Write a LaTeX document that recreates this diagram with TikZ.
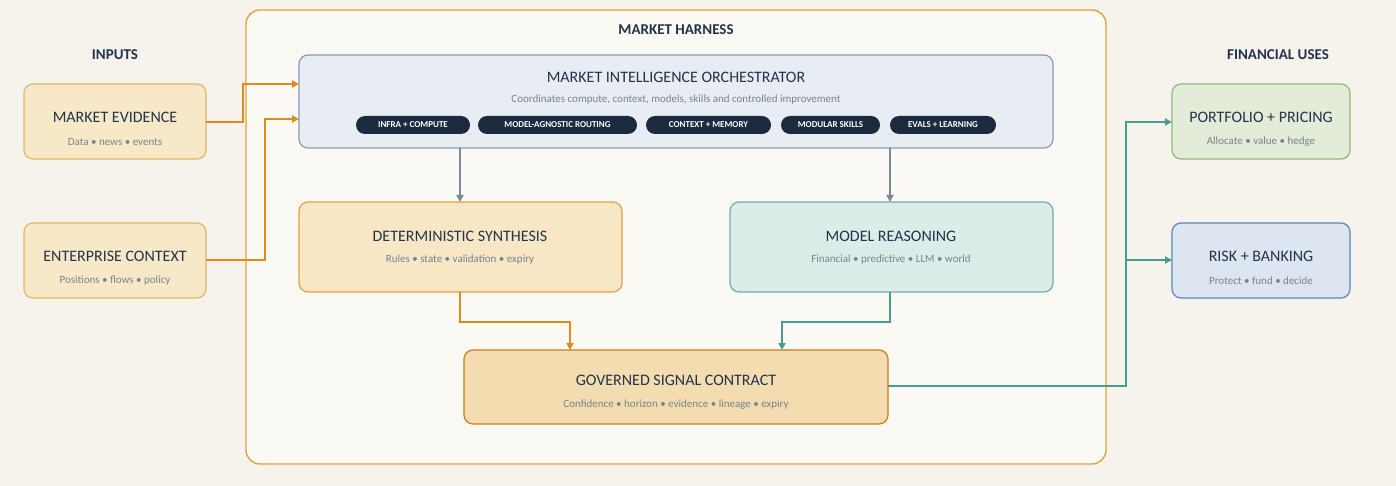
\documentclass[tikz,border=0pt]{standalone}
\usepackage{fontspec}
\setmainfont{Carlito}
\usetikzlibrary{arrows.meta}
\definecolor{bg}{HTML}{F6F3EC}
\definecolor{hfill}{HTML}{FBF9F4}
\definecolor{hborder}{HTML}{D9A441}
\definecolor{ink}{HTML}{23344A}
\definecolor{sub}{HTML}{7A8290}
\definecolor{orng}{HTML}{E08A1E}
\definecolor{teal}{HTML}{4A9A94}
\definecolor{gry}{HTML}{7A8A9A}
\definecolor{pill}{HTML}{1B2A3E}
\definecolor{infill}{HTML}{F7E9C8}
\tikzset{
  px/.style={x=1pt,y=-1pt},
  box/.style={rounded corners=9pt,line width=1.2pt},
  ttl/.style={font=\fontsize{16}{18}\selectfont,text=ink},
  sbt/.style={font=\fontsize{11}{12}\selectfont,text=sub},
  hdr/.style={font=\fontsize{15}{16}\selectfont\bfseries,text=ink},
  pl/.style={fill=pill,rounded corners=9pt,text=white,font=\fontsize{9}{10}\selectfont\bfseries,inner sep=0pt},
  oa/.style={draw=orng,line width=2.2pt,-{Triangle[length=7pt,width=7pt]}},
  ta/.style={draw=teal,line width=2.2pt,-{Triangle[length=7pt,width=7pt]}},
  ga/.style={draw=gry,line width=2.2pt,-{Triangle[length=7pt,width=7pt]}},
}
\begin{document}
\begin{tikzpicture}[px]
\fill[bg] (0,0) rectangle (1396,486);
\useasboundingbox (0,0) rectangle (1396,486);
\draw[box,rounded corners=14pt,draw=hborder,fill=hfill,line width=1.4pt] (246,10) rectangle (1106,464);
\node[hdr] (hh) at (676,30) {MARKET HARNESS};
\node[hdr] (ih) at (115,55) {INPUTS};
\node[hdr] (fh) at (1278,55) {FINANCIAL USES};
% inputs
\draw[box,draw=hborder!80,fill=infill] (24,84) rectangle (206,159);
\node[ttl] (me) at (115,117) {MARKET EVIDENCE};
\node[sbt] (mes) at (115,142) {Data • news • events};
\draw[box,draw=hborder!80,fill=infill] (24,223) rectangle (206,298);
\node[ttl] (ec) at (115,256) {ENTERPRISE CONTEXT};
\node[sbt] (ecs) at (115,281) {Positions • flows • policy};
% orchestrator
\draw[box,draw={rgb,255:red,138;green,155;blue,176},fill={rgb,255:red,232;green,237;blue,243}] (299,55) rectangle (1053,148);
\node[ttl] (mo) at (676,77) {MARKET INTELLIGENCE ORCHESTRATOR};
\node[sbt] (mos) at (676,100) {Coordinates compute, context, models, skills and controlled improvement};
\foreach \a/\b/\t [count=\i] in {356/470/INFRA + COMPUTE,478/637/MODEL-AGNOSTIC ROUTING,646/771/CONTEXT + MEMORY,781/880/MODULAR SKILLS,890/996/EVALS + LEARNING}
  \node[pl,minimum width={(\b-\a)*1pt},minimum height=18pt] (p\i) at ({(\a+\b)/2},125) {\t};
% middle
\draw[box,draw=orng!80,fill={rgb,255:red,248;green,231;blue,197}] (299,202) rectangle (622,292);
\node[ttl] (ds) at (460,236) {DETERMINISTIC SYNTHESIS};
\node[sbt] (dss) at (460,260) {Rules • state • validation • expiry};
\draw[box,draw=teal!80,fill={rgb,255:red,220;green,236;blue,233}] (730,202) rectangle (1053,292);
\node[ttl] (mr) at (891,236) {MODEL REASONING};
\node[sbt] (mrs) at (891,260) {Financial • predictive • LLM • world};
\draw[box,draw=orng!90!black,fill={rgb,255:red,243;green,221;blue,176}] (464,350) rectangle (888,424);
\node[ttl] (gs) at (676,380) {GOVERNED SIGNAL CONTRACT};
\node[sbt] (gss) at (676,405) {Confidence • horizon • evidence • lineage • expiry};
% outputs
\draw[box,draw={rgb,255:red,143;green,184;blue,120},fill={rgb,255:red,227;green,236;blue,216}] (1172,84) rectangle (1350,159);
\node[ttl] (pp) at (1261,117) {PORTFOLIO + PRICING};
\node[sbt] (pps) at (1261,142) {Allocate • value • hedge};
\draw[box,draw={rgb,255:red,90;green,133;blue,192},fill={rgb,255:red,221;green,229;blue,240}] (1172,223) rectangle (1350,298);
\node[ttl] (rb) at (1261,256) {RISK + BANKING};
\node[sbt] (rbs) at (1261,281) {Protect • fund • decide};
% coordinates
\coordinate (meo) at (206,122);
\coordinate (eco) at (206,260);
\coordinate (oi1) at (299,84); \coordinate (oi2) at (299,119);
\coordinate (ob1) at (460,148); \coordinate (ob2) at (890,148);
\coordinate (dt) at (460,202); \coordinate (mt) at (890,202);
\coordinate (db) at (460,292); \coordinate (mb) at (890,292);
\coordinate (gt1) at (570,350); \coordinate (gt2) at (782,350);
\coordinate (gr) at (888,386);
\coordinate (pl) at (1172,122); \coordinate (rl) at (1172,260);
\coordinate (br) at (1126,260);
\draw[oa] (meo) -| (243,84) -- (oi1);
\draw[oa] (eco) -| (265,119) -- (oi2);
\draw[ga] (ob1) -- (dt);
\draw[ga] (ob2) -- (mt);
\draw[oa] (db) |- (570,322) -- (gt1);
\draw[ta] (mb) |- (782,322) -- (gt2);
\draw[ta] (gr) -| (1126,122) -- (pl);
\draw[ta] (br) -- (rl);
\end{tikzpicture}
\end{document}
